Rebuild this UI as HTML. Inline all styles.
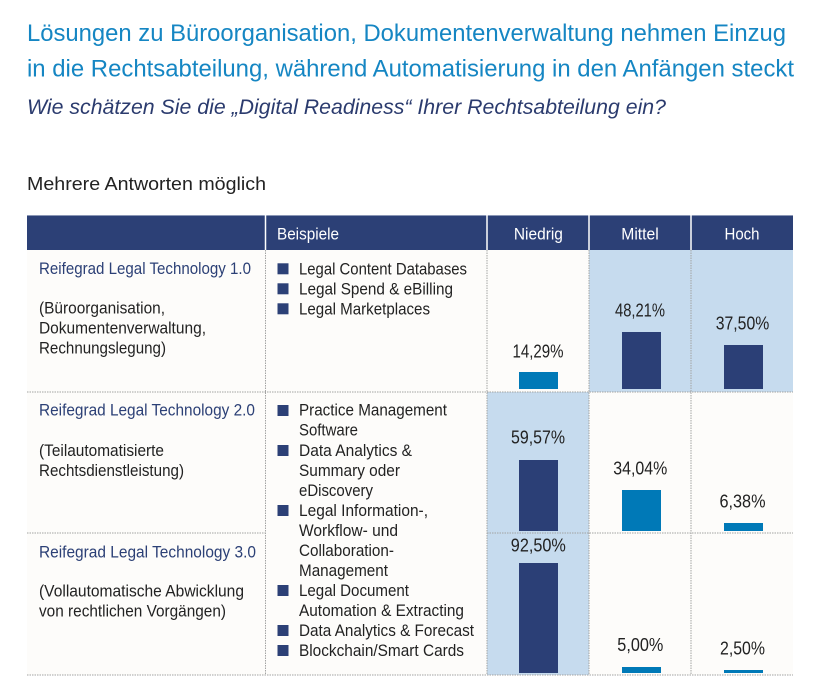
<!DOCTYPE html>
<html><head><meta charset="utf-8"><style>
html,body{margin:0;padding:0;background:#fff;}
svg{display:block;}
text{font-family:"Liberation Sans",sans-serif;}
</style></head><body>
<svg width="817" height="694" viewBox="0 0 817 694" xmlns="http://www.w3.org/2000/svg">
<rect width="817" height="694" fill="#ffffff"/>
<!-- Titles -->
<text x="27" y="41" font-size="24" fill="#1586c3" textLength="759" lengthAdjust="spacingAndGlyphs">Lösungen zu Büroorganisation, Dokumentenverwaltung nehmen Einzug</text>
<text x="27" y="76.5" font-size="24" fill="#1586c3" textLength="767" lengthAdjust="spacingAndGlyphs">in die Rechtsabteilung, während Automatisierung in den Anfängen steckt</text>
<text x="27" y="114" font-size="21" font-style="italic" fill="#2b3b6e" textLength="639" lengthAdjust="spacingAndGlyphs">Wie schätzen Sie die „Digital Readiness“ Ihrer Rechtsabteilung ein?</text>
<text x="27" y="190" font-size="18.5" fill="#222" textLength="239" lengthAdjust="spacingAndGlyphs">Mehrere Antworten möglich</text>

<!-- Header -->
<rect x="27" y="215" width="766" height="35" fill="#2c4076"/>
<line x1="27" y1="215.5" x2="793" y2="215.5" stroke="#8a96b5" stroke-width="1"/>
<g stroke="#ffffff" stroke-width="1.5">
<line x1="265.5" y1="215" x2="265.5" y2="250"/>
<line x1="487" y1="215" x2="487" y2="250"/>
<line x1="589" y1="215" x2="589" y2="250"/>
<line x1="691" y1="215" x2="691" y2="250"/>
</g>
<g font-size="17" fill="#ffffff">
<text x="277" y="239.5" textLength="62" lengthAdjust="spacingAndGlyphs">Beispiele</text>
<text x="538.4" y="239.5" text-anchor="middle" textLength="49" lengthAdjust="spacingAndGlyphs">Niedrig</text>
<text x="640" y="239.5" text-anchor="middle" textLength="37.5" lengthAdjust="spacingAndGlyphs">Mittel</text>
<text x="742" y="239.5" text-anchor="middle" textLength="35" lengthAdjust="spacingAndGlyphs">Hoch</text>
</g>

<!-- Body background -->
<rect x="27" y="250" width="766" height="425" fill="#fdfcfa"/>
<g fill="#c6dbee">
<rect x="589" y="250" width="102" height="142"/>
<rect x="691" y="250" width="102" height="142"/>
<rect x="487" y="392" width="102" height="283"/>
</g>

<!-- Grid lines -->
<g stroke="#a3a3a3" stroke-width="1" stroke-dasharray="1.5,1">
<line x1="27" y1="392" x2="793" y2="392"/>
<line x1="27" y1="533" x2="265.5" y2="533"/>
<line x1="487" y1="533" x2="793" y2="533"/>
<line x1="27" y1="675" x2="793" y2="675"/>
<line x1="265.5" y1="250" x2="265.5" y2="675"/>
<line x1="487" y1="250" x2="487" y2="675"/>
<line x1="589" y1="250" x2="589" y2="675"/>
<line x1="691" y1="250" x2="691" y2="675"/>
</g>

<!-- Left column -->
<g font-size="16.5">
<text x="39" y="274" fill="#2c4076" textLength="212" lengthAdjust="spacingAndGlyphs">Reifegrad Legal Technology 1.0</text>
<text x="39" y="313.5" fill="#222" textLength="126" lengthAdjust="spacingAndGlyphs">(Büroorganisation,</text>
<text x="39" y="333.5" fill="#222" textLength="167" lengthAdjust="spacingAndGlyphs">Dokumentenverwaltung,</text>
<text x="39" y="353.5" fill="#222" textLength="127" lengthAdjust="spacingAndGlyphs">Rechnungslegung)</text>

<text x="39" y="415.7" fill="#2c4076" textLength="216" lengthAdjust="spacingAndGlyphs">Reifegrad Legal Technology 2.0</text>
<text x="39" y="456" fill="#222" textLength="125" lengthAdjust="spacingAndGlyphs">(Teilautomatisierte</text>
<text x="39" y="476" fill="#222" textLength="145" lengthAdjust="spacingAndGlyphs">Rechtsdienstleistung)</text>

<text x="39" y="557.3" fill="#2c4076" textLength="217" lengthAdjust="spacingAndGlyphs">Reifegrad Legal Technology 3.0</text>
<text x="39" y="596.7" fill="#222" textLength="205" lengthAdjust="spacingAndGlyphs">(Vollautomatische Abwicklung</text>
<text x="39" y="616.7" fill="#222" textLength="187" lengthAdjust="spacingAndGlyphs">von rechtlichen Vorgängen)</text>
</g>

<!-- Bullets -->
<g fill="#2c4076">
<rect x="277.5" y="263.3" width="11" height="11"/>
<rect x="277.5" y="283.3" width="11" height="11"/>
<rect x="277.5" y="303.3" width="11" height="11"/>
<rect x="277.5" y="405" width="11" height="11"/>
<rect x="277.5" y="445" width="11" height="11"/>
<rect x="277.5" y="505" width="11" height="11"/>
<rect x="277.5" y="585" width="11" height="11"/>
<rect x="277.5" y="625" width="11" height="11"/>
<rect x="277.5" y="645" width="11" height="11"/>
</g>
<g font-size="16.5" fill="#222">
<text x="299" y="274.3" textLength="168" lengthAdjust="spacingAndGlyphs">Legal Content Databases</text>
<text x="299" y="294.3" textLength="154" lengthAdjust="spacingAndGlyphs">Legal Spend &amp; eBilling</text>
<text x="299" y="314.3" textLength="131" lengthAdjust="spacingAndGlyphs">Legal Marketplaces</text>

<text x="299" y="415.7" textLength="148" lengthAdjust="spacingAndGlyphs">Practice Management</text>
<text x="299" y="435.7" textLength="59" lengthAdjust="spacingAndGlyphs">Software</text>
<text x="299" y="456" textLength="113" lengthAdjust="spacingAndGlyphs">Data Analytics &amp;</text>
<text x="299" y="476" textLength="101" lengthAdjust="spacingAndGlyphs">Summary oder</text>
<text x="299" y="496" textLength="74" lengthAdjust="spacingAndGlyphs">eDiscovery</text>
<text x="299" y="516" textLength="129" lengthAdjust="spacingAndGlyphs">Legal Information-,</text>
<text x="299" y="536" textLength="99" lengthAdjust="spacingAndGlyphs">Workflow- und</text>
<text x="299" y="556" textLength="95" lengthAdjust="spacingAndGlyphs">Collaboration-</text>
<text x="299" y="576" textLength="89" lengthAdjust="spacingAndGlyphs">Management</text>
<text x="299" y="596" textLength="110" lengthAdjust="spacingAndGlyphs">Legal Document</text>
<text x="299" y="616" textLength="165" lengthAdjust="spacingAndGlyphs">Automation &amp; Extracting</text>
<text x="299" y="636" textLength="175" lengthAdjust="spacingAndGlyphs">Data Analytics &amp; Forecast</text>
<text x="299" y="656" textLength="165" lengthAdjust="spacingAndGlyphs">Blockchain/Smart Cards</text>
</g>

<!-- Bars -->
<g fill="#0079b7">
<rect x="519" y="372" width="39" height="17"/>
<rect x="622" y="490" width="39" height="41"/>
<rect x="724" y="523" width="39" height="8"/>
<rect x="622" y="667" width="39" height="6"/>
<rect x="724" y="670" width="39" height="3"/>
</g>
<g fill="#2b3f76">
<rect x="622" y="332" width="39" height="57"/>
<rect x="724" y="345" width="39" height="44"/>
<rect x="519" y="460" width="39" height="71"/>
<rect x="519" y="563" width="39" height="110"/>
</g>

<!-- Percent labels -->
<g font-size="18" fill="#222" text-anchor="middle">
<text x="538" y="357.3" textLength="51" lengthAdjust="spacingAndGlyphs">14,29%</text>
<text x="640" y="316.7" textLength="50" lengthAdjust="spacingAndGlyphs">48,21%</text>
<text x="742.5" y="329.3" textLength="53.5" lengthAdjust="spacingAndGlyphs">37,50%</text>
<text x="538" y="443.3" textLength="54" lengthAdjust="spacingAndGlyphs">59,57%</text>
<text x="640.3" y="474.3" textLength="54" lengthAdjust="spacingAndGlyphs">34,04%</text>
<text x="742.5" y="507.7" textLength="46" lengthAdjust="spacingAndGlyphs">6,38%</text>
<text x="538.3" y="551.7" textLength="55" lengthAdjust="spacingAndGlyphs">92,50%</text>
<text x="640.3" y="651" textLength="46" lengthAdjust="spacingAndGlyphs">5,00%</text>
<text x="742.5" y="654.3" textLength="45" lengthAdjust="spacingAndGlyphs">2,50%</text>
</g>
</svg>
</body></html>
